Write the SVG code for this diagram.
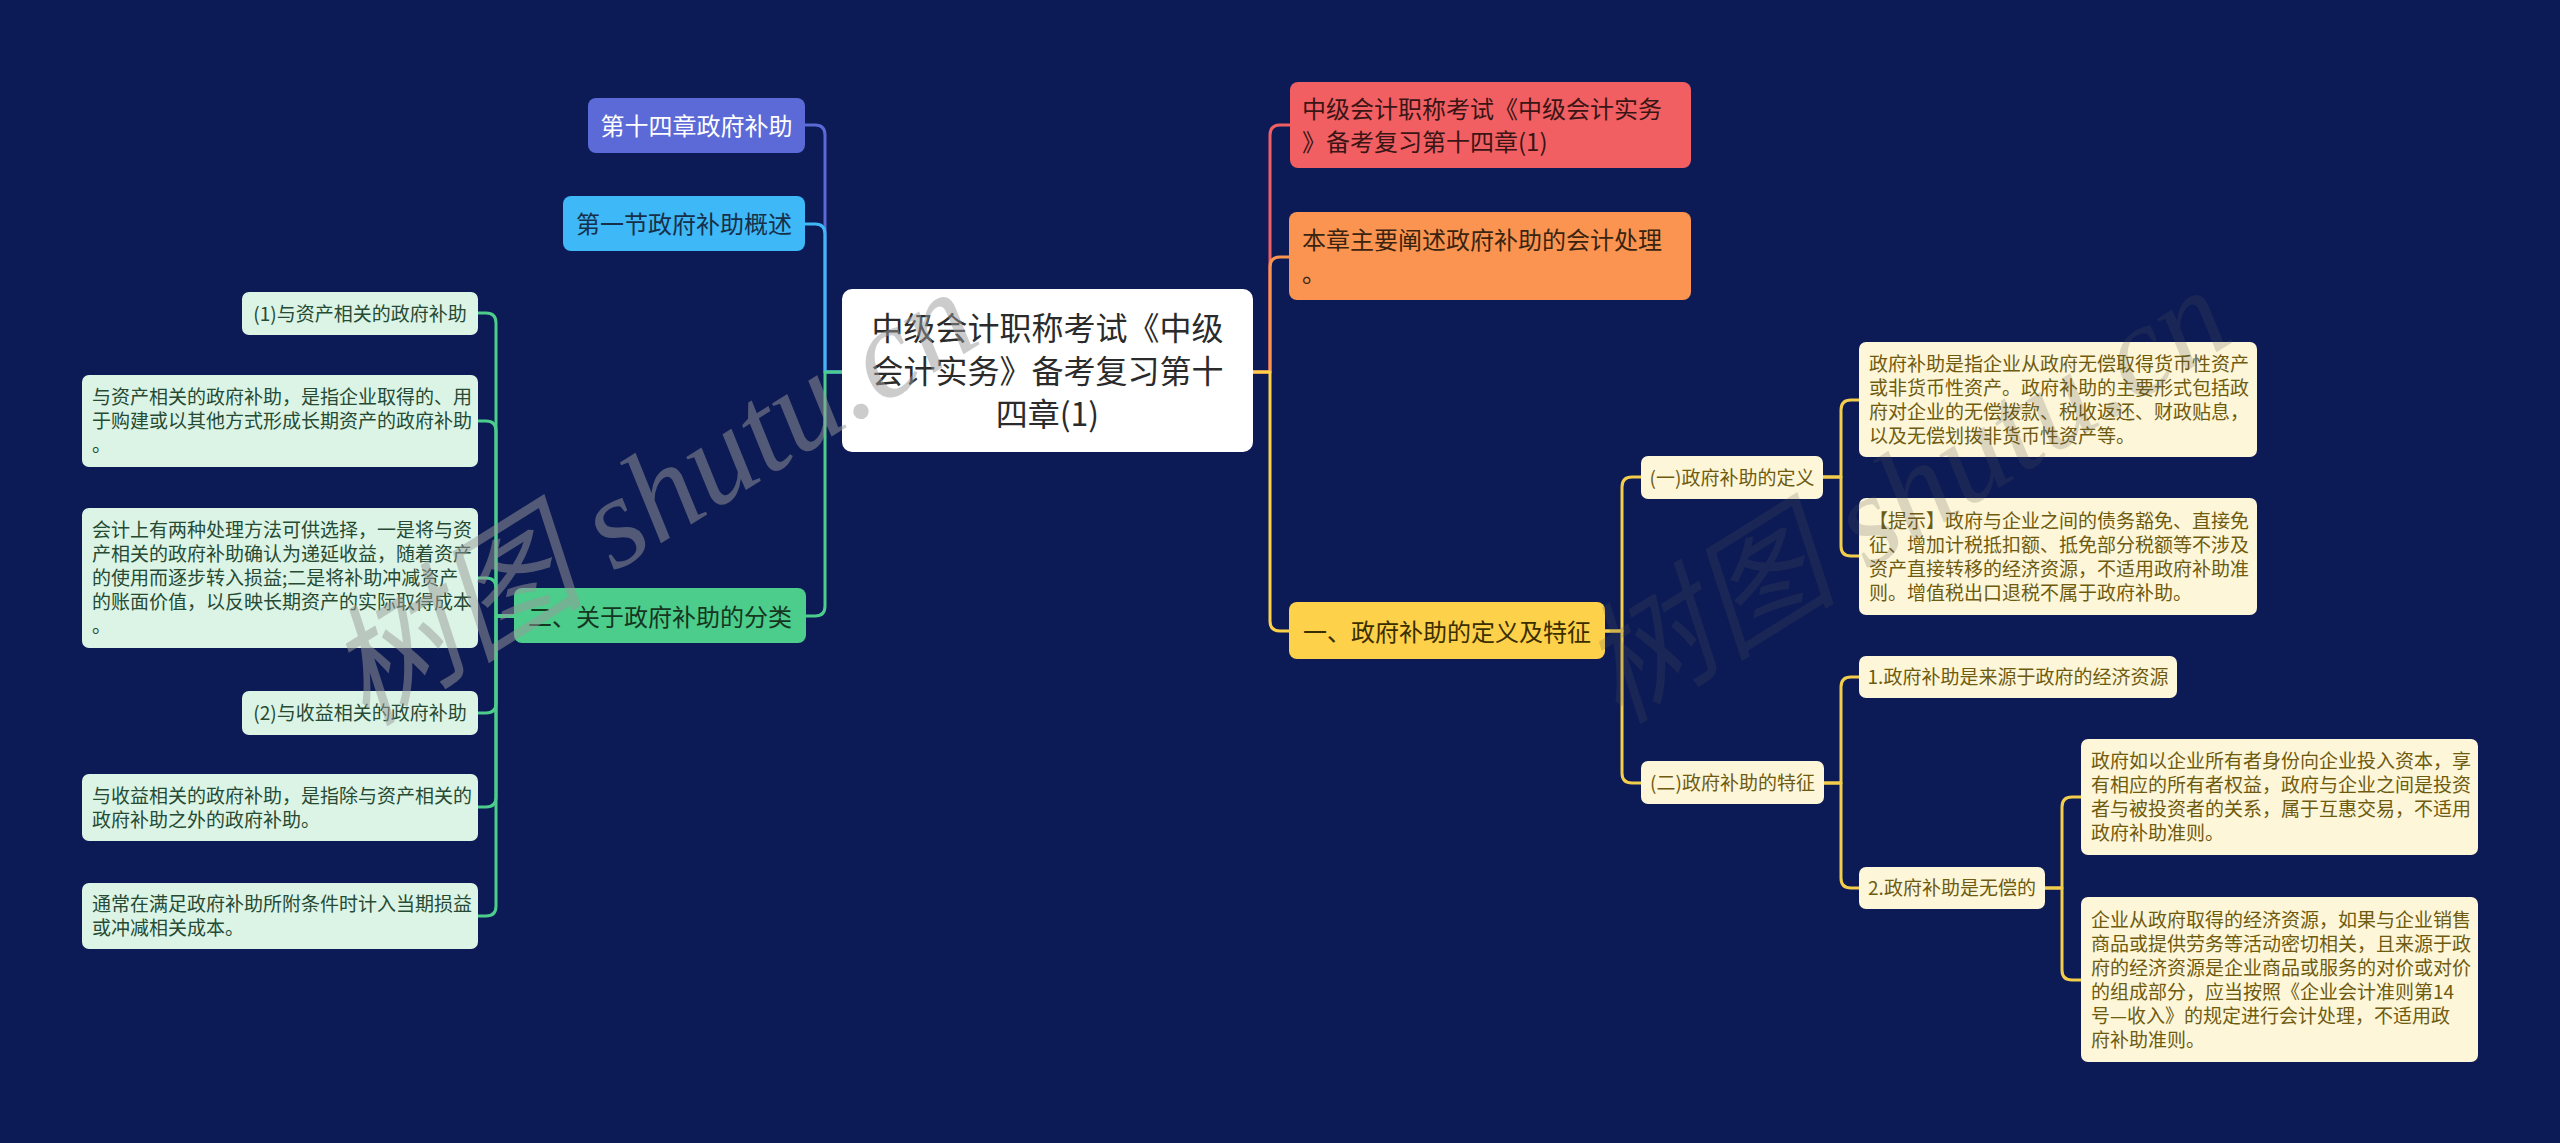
<svg xmlns="http://www.w3.org/2000/svg" width="2560" height="1143" viewBox="0 0 2560 1143">
<style>
text{font-family:"Noto Sans CJK SC","Noto Sans",sans-serif}
.c{fill:none;stroke-width:3;stroke-linecap:round;stroke-linejoin:round}
.leaf rect{fill:#dbf4e5}
.leaf text{font-size:19px;fill:#264a34}
.cream rect{fill:#fdf6d8}
.cream text{font-size:19px;fill:#6f5b10}
.l1 text{font-size:24px}
.mid{text-anchor:middle}
.wm{font-family:"Liberation Serif","Noto Sans CJK SC",serif;font-style:italic;font-size:130px;text-anchor:middle;dominant-baseline:central}
</style>
<rect x="0" y="0" width="2560" height="1143" fill="#0c1b55"/>

<g id="connectors">
<path class="c" stroke="#5b6ad6" d="M842,372 H825 V135 Q825,125 815,125 H805"/>
<path class="c" stroke="#3fb8f7" d="M842,372 H825 V234 Q825,224 815,224 H805"/>
<path class="c" stroke="#4ccd8c" d="M842,372 H825 V606 Q825,616 815,616 H806"/>
<path class="c" stroke="#f25f62" d="M1253,372 H1270 V135 Q1270,125 1280,125 H1290"/>
<path class="c" stroke="#fb9450" d="M1253,372 H1270 V267 Q1270,257 1280,257 H1289"/>
<path class="c" stroke="#fdd14a" d="M1253,372 H1270 V621 Q1270,631 1280,631 H1289"/>
<g stroke="#4ccd8c">
<path class="c" d="M514,616 H496 V323 Q496,313 486,313 H478"/>
<path class="c" d="M514,616 H496 V431 Q496,421 486,421 H478"/>
<path class="c" d="M514,616 H496 V588 Q496,578 486,578 H478"/>
<path class="c" d="M514,616 H496 V703 Q496,713 486,713 H478"/>
<path class="c" d="M514,616 H496 V797 Q496,807 486,807 H478"/>
<path class="c" d="M514,616 H496 V906 Q496,916 486,916 H478"/>
</g>
<g stroke="#f3cd4c">
<path class="c" d="M1605,631 H1622 V487 Q1622,477 1632,477 H1641"/>
<path class="c" d="M1605,631 H1622 V773 Q1622,783 1632,783 H1641"/>
<path class="c" d="M1823,477 H1841 V410 Q1841,400 1851,400 H1859"/>
<path class="c" d="M1823,477 H1841 V546 Q1841,556 1851,556 H1859"/>
<path class="c" d="M1824,783 H1841 V687 Q1841,677 1851,677 H1859"/>
<path class="c" d="M1824,783 H1841 V878 Q1841,888 1851,888 H1859"/>
<path class="c" d="M2045,888 H2062 V807 Q2062,797 2072,797 H2081"/>
<path class="c" d="M2045,888 H2062 V970 Q2062,980 2072,980 H2081"/>
</g>
</g>

<g id="root">
<rect x="842" y="289" width="411" height="163" rx="10" fill="#ffffff"/>
<text class="mid" font-size="32" fill="#2b2b2b"><tspan x="1047.5" y="339.5">中级会计职称考试《中级</tspan><tspan x="1047.5" y="382.5">会计实务》备考复习第十</tspan><tspan x="1047.5" y="425.5">四章(1)</tspan></text>
</g>

<g id="n-ch14" class="l1">
<rect x="588" y="98" width="217" height="55" rx="8" fill="#5b6ad6"/>
<text class="mid" x="696.5" y="134.5" fill="#ffffff">第十四章政府补助</text>
</g>
<g id="n-sec1" class="l1">
<rect x="563" y="196" width="242" height="55" rx="8" fill="#3fb8f7"/>
<text class="mid" x="684" y="232.5" fill="#16304a">第一节政府补助概述</text>
</g>
<g id="n-class" class="l1">
<rect x="514" y="588" width="292" height="55" rx="8" fill="#4ccd8c"/>
<text class="mid" x="660" y="625.5" font-size="26" fill="#15361f">二、关于政府补助的分类</text>
</g>

<g id="n-a1" class="leaf">
<rect x="242" y="292" width="236" height="43" rx="7"/>
<text class="mid" x="360" y="320.5">(1)与资产相关的政府补助</text>
</g>
<g id="n-a2" class="leaf">
<rect x="82" y="375" width="396" height="92" rx="7"/>
<text><tspan x="92" y="404">与资产相关的政府补助，是指企业取得的、用</tspan><tspan x="92" y="428">于购建或以其他方式形成长期资产的政府补助</tspan><tspan x="92" y="452">。</tspan></text>
</g>
<g id="n-a3" class="leaf">
<rect x="82" y="508" width="396" height="140" rx="7"/>
<text><tspan x="92" y="537">会计上有两种处理方法可供选择，一是将与资</tspan><tspan x="92" y="561">产相关的政府补助确认为递延收益，随着资产</tspan><tspan x="92" y="585">的使用而逐步转入损益;二是将补助冲减资产</tspan><tspan x="92" y="609">的账面价值，以反映长期资产的实际取得成本</tspan><tspan x="92" y="633">。</tspan></text>
</g>
<g id="n-b1" class="leaf">
<rect x="242" y="691" width="236" height="44" rx="7"/>
<text class="mid" x="360" y="720">(2)与收益相关的政府补助</text>
</g>
<g id="n-b2" class="leaf">
<rect x="82" y="774" width="396" height="67" rx="7"/>
<text><tspan x="92" y="803">与收益相关的政府补助，是指除与资产相关的</tspan><tspan x="92" y="827">政府补助之外的政府补助。</tspan></text>
</g>
<g id="n-b3" class="leaf">
<rect x="82" y="883" width="396" height="66" rx="7"/>
<text><tspan x="92" y="911">通常在满足政府补助所附条件时计入当期损益</tspan><tspan x="92" y="935">或冲减相关成本。</tspan></text>
</g>

<g id="n-title" class="l1">
<rect x="1290" y="82" width="401" height="86" rx="8" fill="#f25f62"/>
<text fill="#3a1515"><tspan x="1302" y="117.5">中级会计职称考试《中级会计实务</tspan><tspan x="1302" y="150.5">》备考复习第十四章(1)</tspan></text>
</g>
<g id="n-intro" class="l1">
<rect x="1289" y="212" width="402" height="88" rx="8" fill="#fb9450"/>
<text fill="#3a2410"><tspan x="1302" y="248.5">本章主要阐述政府补助的会计处理</tspan><tspan x="1302" y="281.5">。</tspan></text>
</g>
<g id="n-def-feat" class="l1">
<rect x="1289" y="602" width="316" height="57" rx="8" fill="#fdd14a"/>
<text class="mid" x="1447" y="640.5" font-size="26" fill="#3a2e00">一、政府补助的定义及特征</text>
</g>

<g id="n-def" class="cream">
<rect x="1641" y="456" width="182" height="43" rx="7"/>
<text class="mid" x="1732" y="484.5">(一)政府补助的定义</text>
</g>
<g id="n-def-text" class="cream">
<rect x="1859" y="342" width="398" height="115" rx="7"/>
<text><tspan x="1869" y="370.5">政府补助是指企业从政府无偿取得货币性资产</tspan><tspan x="1869" y="394.5">或非货币性资产。政府补助的主要形式包括政</tspan><tspan x="1869" y="418.5">府对企业的无偿拨款、税收返还、财政贴息，</tspan><tspan x="1869" y="442.5">以及无偿划拨非货币性资产等。</tspan></text>
</g>
<g id="n-tip" class="cream">
<rect x="1859" y="498" width="398" height="117" rx="7"/>
<text><tspan x="1869" y="527.5">【提示】政府与企业之间的债务豁免、直接免</tspan><tspan x="1869" y="551.5">征、增加计税抵扣额、抵免部分税额等不涉及</tspan><tspan x="1869" y="575.5">资产直接转移的经济资源，不适用政府补助准</tspan><tspan x="1869" y="599.5">则。增值税出口退税不属于政府补助。</tspan></text>
</g>
<g id="n-feat" class="cream">
<rect x="1641" y="761" width="183" height="43" rx="7"/>
<text class="mid" x="1732.5" y="789.5">(二)政府补助的特征</text>
</g>
<g id="n-f1" class="cream">
<rect x="1859" y="656" width="318" height="42" rx="7"/>
<text class="mid" x="2018" y="684">1.政府补助是来源于政府的经济资源</text>
</g>
<g id="n-f2" class="cream">
<rect x="1859" y="867" width="186" height="42" rx="7"/>
<text class="mid" x="1952" y="895">2.政府补助是无偿的</text>
</g>
<g id="n-f2a" class="cream">
<rect x="2081" y="739" width="397" height="116" rx="7"/>
<text><tspan x="2091" y="768">政府如以企业所有者身份向企业投入资本，享</tspan><tspan x="2091" y="792">有相应的所有者权益，政府与企业之间是投资</tspan><tspan x="2091" y="816">者与被投资者的关系，属于互惠交易，不适用</tspan><tspan x="2091" y="840">政府补助准则。</tspan></text>
</g>
<g id="n-f2b" class="cream">
<rect x="2081" y="897" width="397" height="165" rx="7"/>
<text><tspan x="2091" y="926.5">企业从政府取得的经济资源，如果与企业销售</tspan><tspan x="2091" y="950.5">商品或提供劳务等活动密切相关，且来源于政</tspan><tspan x="2091" y="974.5">府的经济资源是企业商品或服务的对价或对价</tspan><tspan x="2091" y="998.5">的组成部分，应当按照《企业会计准则第14</tspan><tspan x="2091" y="1022.5">号—收入》的规定进行会计处理，不适用政</tspan><tspan x="2091" y="1046.5">府补助准则。</tspan></text>
</g>

<g id="watermark">
<text class="wm" x="652" y="497" transform="rotate(-32 652 497)" fill="#999999" fill-opacity="0.5">树图 shutu.cn</text>
<text class="wm" x="1905" y="495" transform="rotate(-32 1905 495)" fill="#555555" fill-opacity="0.2">树图 shutu.cn</text>
</g>
</svg>
